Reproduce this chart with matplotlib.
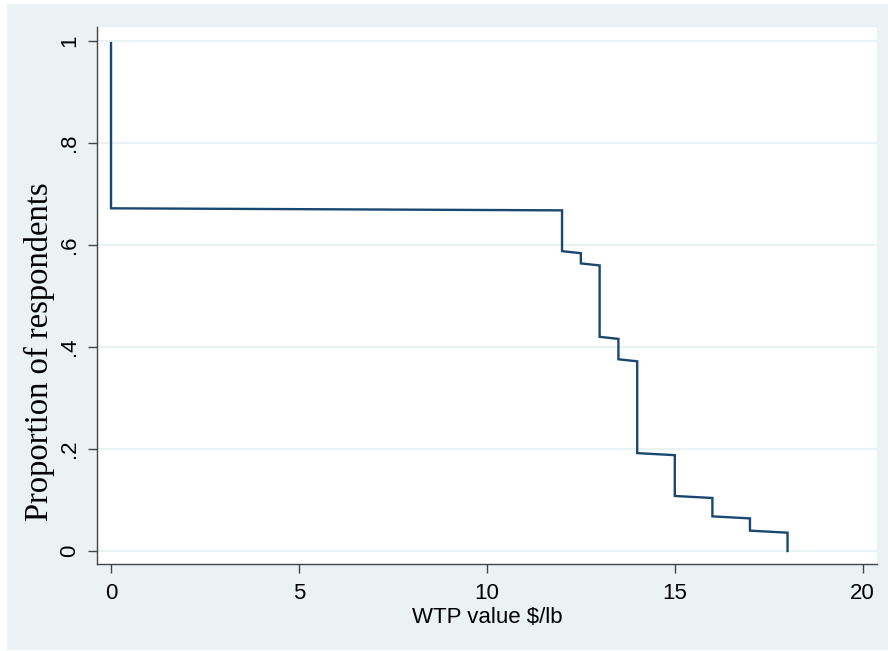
import matplotlib
matplotlib.use("Agg")
import matplotlib.pyplot as plt
from matplotlib.patches import Rectangle

# ─── Data: vertices of the survival-type step line ────────────────────────────
wtp = [0, 0, 12, 12, 12.5, 12.5, 13, 13, 13.5, 13.5, 14, 14,
       15, 15, 16, 16, 17, 17, 18, 18]
prop = [0.996, 0.672, 0.668, 0.588, 0.584, 0.564, 0.560, 0.420, 0.416, 0.376,
        0.372, 0.192, 0.188, 0.108, 0.104, 0.068, 0.064, 0.040, 0.036, 0.0]

x_ticks = [0, 5, 10, 15, 20]
y_ticks = [0, 0.2, 0.4, 0.6, 0.8, 1.0]
y_ticklabels = ["0", ".2", ".4", ".6", ".8", "1"]

# Stata s2color palette
BG = "#EAF2F3"      # ltbluishgray
NAVY = "#1A476F"
AXC = "#444444"

W, H = 888, 651
fig = plt.figure(figsize=(W / 100, H / 100), dpi=100, facecolor="white")
fig.patches.append(Rectangle((7 / W, 1 - 650 / H), (W - 7) / W, (650 - 4) / H,
                             transform=fig.transFigure, facecolor=BG,
                             edgecolor="none", zorder=-10))

ax = fig.add_axes([97.3 / W, 1 - 564.3 / H, (877 - 97.3) / W, (564.3 - 27) / H])
ax.set_facecolor("white")

ax.plot(wtp, prop, color=NAVY, lw=1.7, solid_joinstyle="miter", zorder=3)

ax.set_xlim(-0.365, 20.38)
ax.set_ylim(-0.026, 1.0275)

ax.set_xticks(x_ticks)
ax.set_xticklabels([str(t) for t in x_ticks], fontsize=16, family="Liberation Sans")
ax.set_yticks(y_ticks)
ax.set_yticklabels(y_ticklabels, fontsize=16, family="Liberation Sans",
                   rotation=90, va="center")

for t in y_ticks:
    ax.axhline(t, color=BG, lw=1.4, zorder=1)

for s in ["top", "right"]:
    ax.spines[s].set_visible(False)
for s in ["left", "bottom"]:
    ax.spines[s].set_color(AXC)
    ax.spines[s].set_linewidth(1.0)
ax.tick_params(axis="both", direction="out", length=6.5, width=1.0,
               color=AXC, labelcolor="black")
ax.tick_params(axis="x", pad=7)
ax.tick_params(axis="y", pad=6)

ax.set_xlabel("WTP value $/lb", fontsize=16, family="Liberation Sans", labelpad=2)
ax.set_ylabel("Proportion of respondents", fontsize=23.5, family="Liberation Serif")
ax.yaxis.set_label_coords((55 - 97.3) / (877 - 97.3), (564.3 - 352) / (564.3 - 27))

fig.savefig("out.png", dpi=100, facecolor=fig.get_facecolor())
